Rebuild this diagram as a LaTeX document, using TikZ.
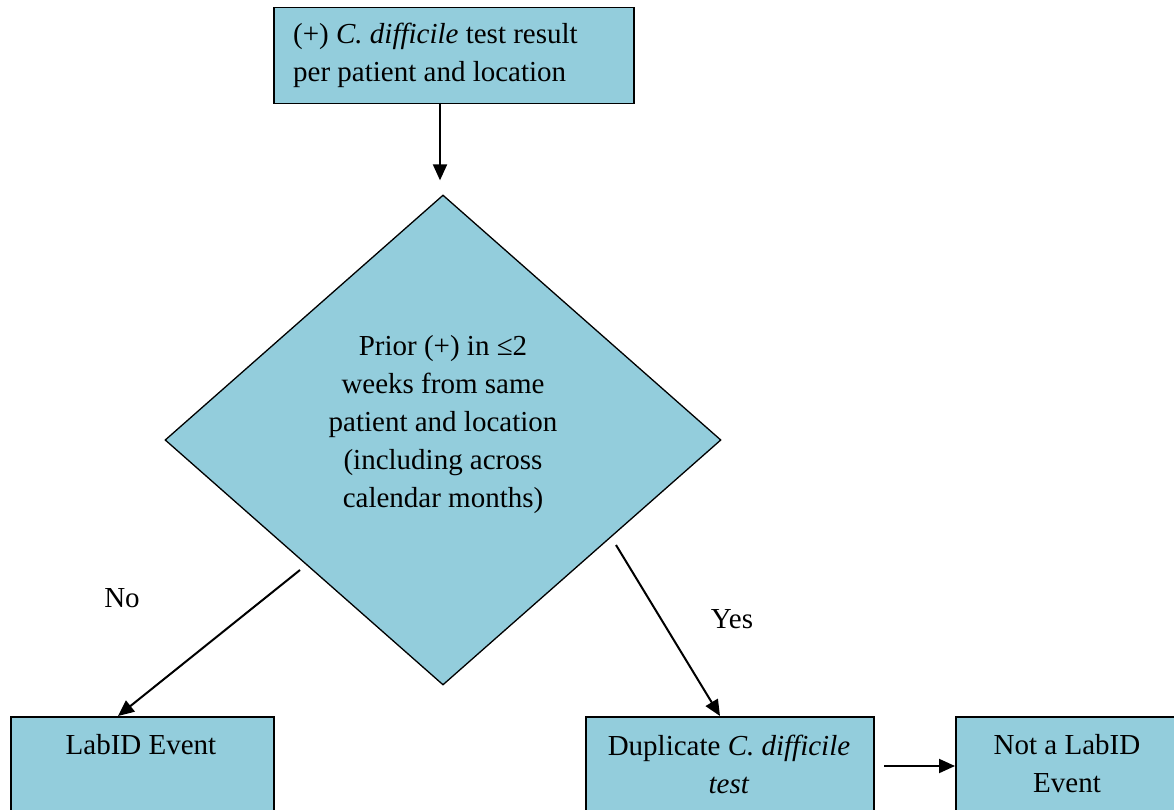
\documentclass[tikz,border=0pt]{standalone}
\usepackage{fontspec}
\setmainfont{Liberation Serif}
\usetikzlibrary{shapes.geometric,arrows.meta}
\definecolor{boxfill}{HTML}{93CDDC}
\begin{document}
\begin{tikzpicture}[x=1pt,y=-1pt,
  box/.style={draw=black, line width=1.5pt, fill=boxfill, rectangle, inner sep=0pt},
  txt/.style={font=\fontsize{29}{38}\selectfont, align=center, inner sep=0pt},
  arr/.style={line width=2pt, -{Triangle[length=16pt,width=14pt]}}]
\useasboundingbox (0,0) rectangle (1174,810);
\clip (0,0) rectangle (1174,810);
% top box
\node[box, minimum width=360, minimum height=96, anchor=north west] (top) at (273,7) {};
\node[txt, align=left, anchor=west] (toptxt) at (293,55) {(+) \textit{C. difficile} test result\\per patient and location};
% decision diamond
\node[diamond, draw=black, line width=1.3pt, fill=boxfill, minimum width=556, minimum height=490, inner sep=0pt] (dec) at (443,440) {};
\node[txt] (dectxt) at (443,425) {Prior (+) in ≤2\\weeks from same\\patient and location\\(including across\\calendar months)};
% bottom boxes
\node[box, minimum width=263, minimum height=130, anchor=north west] (lab) at (10,716) {};
\node[txt] (labtxt) at (141,745) {LabID Event};
\node[box, minimum width=288, minimum height=130, anchor=north west] (dup) at (585,716) {};
\node[txt] (duptxt) at (729,764) {Duplicate \textit{C. difficile}\\\textit{test}};
\node[box, minimum width=240, minimum height=130, anchor=north west] (not) at (955,716) {};
\node[txt] (nottxt) at (1067,764) {Not a LabID\\Event};
% labels
\node[txt] (nolbl) at (122,598) {No};
\node[txt] (yeslbl) at (732,619) {Yes};
% connectors
\coordinate (ts) at (440,103);
\draw[arr, shorten >=14pt] (ts) -- (ts |- dec.north);
\coordinate (nos) at (300,570);
\coordinate (noe) at (118,716);
\draw[arr] (nos) -- (noe);
\coordinate (yss) at (616,545);
\coordinate (yse) at (720,716);
\draw[arr] (yss) -- (yse);
\coordinate (hs) at (884,766);
\draw[arr] (hs) -- (hs -| not.west);
\end{tikzpicture}
\end{document}
